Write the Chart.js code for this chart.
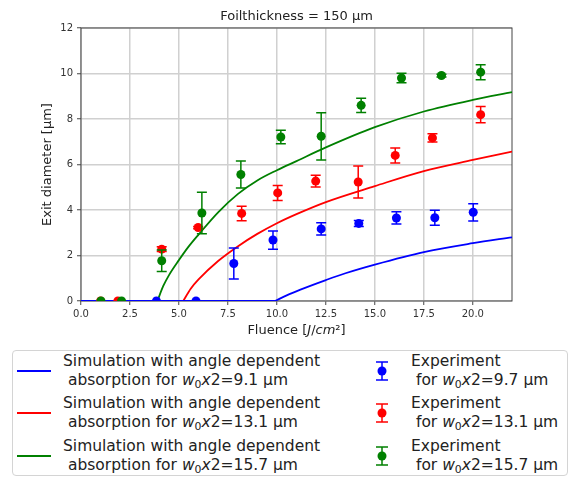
<!DOCTYPE html>
<html>
<head>
<meta charset="utf-8">
<title>Exit diameter vs fluence</title>
<script src="https://cdn.jsdelivr.net/npm/chart.js@4.4.1/dist/chart.umd.min.js"></script>
<style>
  body { margin: 0; background: #fff; font-family: 'DejaVu Sans', sans-serif; color: #222; }
  #wrap { position: relative; width: 573px; height: 478px; overflow: hidden; }
  #plot { position: absolute; left: 0; top: 0; width: 573px; height: 340px; }
  #legendBox { position: absolute; left: 12px; top: 350px; width: 556px; height: 126px;
               box-sizing: border-box; border: 1px solid #d4d4d4; border-radius: 4px; }
  .entry { position: absolute; font-size: 15.5px; line-height: 19px; white-space: pre; color: #222; }
  .entry sub { font-size: 70%; vertical-align: -0.25em; line-height: 0; }
  .swatch { position: absolute; width: 34px; height: 2px; }
  .glyph { position: absolute; }
</style>
</head>
<body>
<div id="wrap">
  <div id="plot"><canvas id="chart"></canvas></div>
  <div id="legendBox"></div>
</div>
<script>
// Axis ticks
const xTicks = [0, 2.5, 5, 7.5, 10, 12.5, 15, 17.5, 20];
const yTicks = [0, 2, 4, 6, 8, 10, 12];

// Beam sizes used in the legend (w0 x 2, in µm)
const simBeam = ['9.1', '13.1', '15.7'];
const expBeam = ['9.7', '13.1', '15.7'];

// Simulated exit diameter curves (fluence J/cm², diameter µm);
// the first two points are the flat part below threshold
const simBlueX = [0, 9.9, 10.5, 11.2, 12.5, 13.5, 15, 17.5, 20, 22];
const simBlueY = [0, 0, 0.25, 0.5, 0.92, 1.22, 1.6, 2.15, 2.54, 2.8];
const simRedX = [0, 5.22, 5.6, 6, 7, 8, 9, 10, 11, 12.5, 15, 17.5, 20, 22];
const simRedY = [0, 0, 0.54, 0.95, 1.76, 2.4, 2.95, 3.42, 3.82, 4.35, 5.05, 5.71, 6.2, 6.57];
const simGreenX = [0, 3.9, 4.2, 4.5, 5, 5.5, 6, 7, 8, 9, 10, 11, 12.5, 15, 17.5, 20, 22];
const simGreenY = [0, 0, 0.66, 1.15, 1.8, 2.4, 2.92, 3.9, 4.7, 5.3, 5.75, 6.15, 6.75, 7.64, 8.33, 8.84, 9.18];

// Measured exit diameters with error
const expBlueX = [3.85, 5.87, 7.8, 9.8, 12.26, 14.18, 16.1, 18.06, 20.02];
const expBlueY = [0, 0, 1.65, 2.68, 3.17, 3.41, 3.65, 3.66, 3.9];
const expBlueErr = [0, 0, 0.68, 0.4, 0.27, 0.13, 0.27, 0.33, 0.38];
const expRedX = [1.0, 1.88, 4.12, 5.98, 8.2, 10.04, 11.98, 14.15, 16.04, 17.94, 20.4];
const expRedY = [0, 0, 2.28, 3.23, 3.85, 4.75, 5.27, 5.23, 6.4, 7.17, 8.19];
const expRedErr = [0, 0, 0.1, 0.05, 0.32, 0.33, 0.26, 0.7, 0.33, 0.18, 0.36];
const expGreenX = [1.02, 2.07, 4.12, 6.17, 8.16, 10.2, 12.26, 14.3, 16.36, 18.4, 20.4];
const expGreenY = [0, 0, 1.77, 3.87, 5.56, 7.21, 7.24, 8.6, 9.8, 9.91, 10.06];
const expGreenErr = [0, 0, 0.47, 0.91, 0.59, 0.3, 1.04, 0.31, 0.21, 0.06, 0.33];

const colors = ['#0000ff', '#ff0000', '#008000'];

const toPoints = (xs, ys) => xs.map((x, i) => ({ x, y: ys[i] }));

Chart.defaults.font.family = "'DejaVu Sans', sans-serif";
Chart.defaults.color = '#333';

// Simulation curve: flat segment up to threshold, smooth rise after it
function simSets(xs, ys, color) {
  const base = {
    showLine: true,
    borderColor: color,
    backgroundColor: color,
    borderWidth: 1.8,
    pointRadius: 0,
    order: 10,
  };
  return [
    { ...base, data: toPoints(xs.slice(0, 2), ys.slice(0, 2)) },
    { ...base, data: toPoints(xs.slice(1), ys.slice(1)), cubicInterpolationMode: 'monotone' },
  ];
}

// Measurement dataset, errors are drawn by the errorBars plugin
function expSet(xs, ys, errs, color, order) {
  return {
    data: toPoints(xs, ys),
    errors: errs,
    showLine: false,
    borderColor: color,
    backgroundColor: color,
    pointRadius: 4.5,
    pointBorderWidth: 0,
    clip: 0,
    order,
  };
}

// Vertical error bars with caps
const errorBars = {
  id: 'errorBars',
  afterDatasetDraw(chart, args) {
    const ds = chart.data.datasets[args.index];
    if (!ds.errors) return;
    const { ctx, chartArea: a, scales: { x, y } } = chart;
    ctx.save();
    ctx.beginPath();
    ctx.rect(a.left, a.top, a.width, a.height);
    ctx.clip();
    ctx.strokeStyle = ds.borderColor;
    ctx.lineWidth = 1.5;
    ds.data.forEach((p, i) => {
      const e = ds.errors[i];
      if (!e) return;
      const px = x.getPixelForValue(p.x);
      const top = y.getPixelForValue(p.y + e);
      const bot = y.getPixelForValue(p.y - e);
      ctx.beginPath();
      ctx.moveTo(px, top); ctx.lineTo(px, bot);
      ctx.moveTo(px - 5, top); ctx.lineTo(px + 5, top);
      ctx.moveTo(px - 5, bot); ctx.lineTo(px + 5, bot);
      ctx.stroke();
    });
    ctx.restore();
  }
};

// Box around the plot area
const frame = {
  id: 'frame',
  beforeDatasetsDraw(chart) {
    const { ctx, chartArea: a } = chart;
    ctx.save();
    ctx.strokeStyle = '#444';
    ctx.lineWidth = 1;
    ctx.strokeRect(a.left, a.top, a.width, a.height);
    ctx.restore();
  }
};

// x axis title with italic unit letters
const xTitle = {
  id: 'xTitle',
  afterDraw(chart) {
    const { ctx, chartArea: a } = chart;
    const runs = [['Fluence [', ''], ['J', 'italic '], ['/', ''], ['cm', 'italic '], ['²', ''], [']', '']];
    const font = s => s + '13px "DejaVu Sans", sans-serif';
    ctx.save();
    let total = 0;
    runs.forEach(([t, s]) => { ctx.font = font(s); total += ctx.measureText(t).width; });
    let x = (a.left + a.right) / 2 - total / 2;
    ctx.fillStyle = '#222';
    ctx.textBaseline = 'middle';
    ctx.textAlign = 'left';
    runs.forEach(([t, s]) => {
      ctx.font = font(s);
      ctx.fillText(t, x, 331);
      x += ctx.measureText(t).width;
    });
    ctx.restore();
  }
};

new Chart(document.getElementById('chart'), {
  type: 'scatter',
  data: {
    datasets: [
      ...simSets(simBlueX, simBlueY, colors[0]),
      ...simSets(simRedX, simRedY, colors[1]),
      ...simSets(simGreenX, simGreenY, colors[2]),
      expSet(expBlueX, expBlueY, expBlueErr, colors[0], 3),
      expSet(expRedX, expRedY, expRedErr, colors[1], 2),
      expSet(expGreenX, expGreenY, expGreenErr, colors[2], 1),
    ]
  },
  options: {
    responsive: true,
    maintainAspectRatio: false,
    animation: false,
    layout: { padding: { left: 35, right: 61, top: 0, bottom: 0 } },
    plugins: {
      legend: { display: false },
      tooltip: { enabled: false },
      title: {
        display: true,
        text: 'Foilthickness = 150 µm',
        fullSize: false,
        color: '#222',
        font: { size: 13, weight: 'normal' },
        padding: { top: 8.5, bottom: 3.9 },
      },
    },
    scales: {
      x: {
        type: 'linear',
        min: 0,
        max: 22,
        afterBuildTicks: s => { s.ticks = xTicks.map(v => ({ value: v })); },
        afterFit: s => { s.height = 39; },
        ticks: { callback: v => v.toFixed(1), font: { size: 10 }, color: '#333', padding: 3, maxRotation: 0, autoSkip: false },
        grid: { color: '#d0d0d0', lineWidth: 1.5, tickLength: 4, tickColor: '#444', tickWidth: 1 },
        border: { display: false },
      },
      y: {
        type: 'linear',
        min: 0,
        max: 12,
        afterBuildTicks: s => { s.ticks = yTicks.map(v => ({ value: v })); },
        afterFit: s => { s.width = 46; },
        ticks: { callback: v => String(v), font: { size: 10 }, color: '#333', padding: 4, autoSkip: false },
        grid: { color: '#d0d0d0', lineWidth: 1.5, tickLength: 4, tickColor: '#444', tickWidth: 1 },
        border: { display: false },
        title: {
          display: true,
          text: 'Exit diameter [µm]',
          color: '#222',
          font: { size: 13 },
          padding: { top: 5, bottom: 0 },
        },
      },
    },
  },
  plugins: [frame, errorBars, xTitle],
});

// Legend below the plot
const wrap = document.getElementById('wrap');
const beamText = b => '<i>w</i><sub>0</sub><i>x</i>2=' + b + ' µm';
const rowTops = [351.5, 394, 436.5];

function addEntry(left, top, html) {
  const el = document.createElement('div');
  el.className = 'entry';
  el.style.left = left + 'px';
  el.style.top = top + 'px';
  el.innerHTML = html;
  wrap.appendChild(el);
}

colors.forEach((c, i) => {
  const mid = rowTops[i] + 19;

  const sw = document.createElement('div');
  sw.className = 'swatch';
  sw.style.left = '17px';
  sw.style.top = (mid - 1) + 'px';
  sw.style.background = c;
  wrap.appendChild(sw);
  addEntry(63, rowTops[i], 'Simulation with angle dependent\n absorption for ' + beamText(simBeam[i]));

  const g = document.createElementNS('http://www.w3.org/2000/svg', 'svg');
  g.setAttribute('class', 'glyph');
  g.setAttribute('width', '16');
  g.setAttribute('height', '24');
  g.style.left = '374px';
  g.style.top = (mid - 12) + 'px';
  g.innerHTML =
    '<path d="M8 3V21M2 3H14M2 21H14" stroke="' + c + '" stroke-width="1.5" fill="none"/>' +
    '<circle cx="8" cy="12" r="4.5" fill="' + c + '"/>';
  wrap.appendChild(g);
  addEntry(411, rowTops[i], 'Experiment\n for ' + beamText(expBeam[i]));
});
</script>
</body>
</html>
